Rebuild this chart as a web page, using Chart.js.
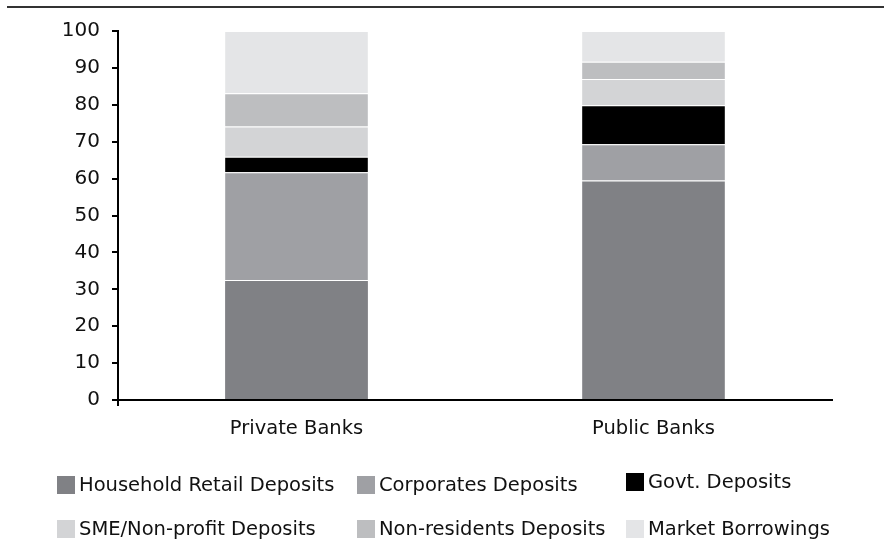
<!DOCTYPE html>
<html>
<head>
<meta charset="utf-8">
<script src="https://cdn.jsdelivr.net/npm/chart.js@4.4.1/dist/chart.umd.min.js"></script>
<style>
  html, body { margin: 0; padding: 0; background: #fff; }
  #wrap { position: relative; width: 884px; height: 544px; overflow: hidden; }
  #rule { position: absolute; left: 7px; right: 0; top: 6px; border-top: 2px solid #333; }
  #chart { position: absolute; left: 0; top: 0; }
  .lg { position: absolute; display: flex; align-items: center; font: 19.5px "DejaVu Sans", sans-serif; color: #111; white-space: nowrap; }
  .lg i { display: inline-block; width: 18px; height: 18px; margin-right: 4px; }
</style>
</head>
<body>
<div id="wrap">
  <div id="rule"></div>
  <canvas id="chart" width="884" height="544"></canvas>
  <div id="legend"></div>
</div>
<script>
// bank funding mix, % of total
const banks = ['Private Banks', 'Public Banks'];
const household = [32.5, 59.5];
const corporates = [29.2, 9.8];
const govt = [4.2, 10.6];
const sme = [8.2, 7.1];
const nonResidents = [9.0, 4.7];
const marketBorrowings = [16.9, 8.3];
const yTicks = [0, 10, 20, 30, 40, 50, 60, 70, 80, 90, 100];

const series = [
  { label: 'Household Retail Deposits', data: household, color: '#808185' },
  { label: 'Corporates Deposits', data: corporates, color: '#9fa0a4' },
  { label: 'Govt. Deposits', data: govt, color: '#000000' },
  { label: 'SME/Non-profit Deposits', data: sme, color: '#d3d4d6' },
  { label: 'Non-residents Deposits', data: nonResidents, color: '#bdbec0' },
  { label: 'Market Borrowings', data: marketBorrowings, color: '#e4e5e7' }
];

const family = '"DejaVu Sans", sans-serif';

new Chart(document.getElementById('chart'), {
  type: 'bar',
  data: {
    labels: banks,
    datasets: series.map(s => ({
      label: s.label,
      data: s.data,
      backgroundColor: s.color,
      borderColor: 'rgba(255,255,255,0.2)',
      borderWidth: { top: 1 },
      borderSkipped: 'bottom',
      barPercentage: 0.4,
      categoryPercentage: 1
    }))
  },
  options: {
    responsive: false,
    animation: false,
    layout: { padding: { left: 0, right: 52, top: 31, bottom: 100 } },
    plugins: { legend: { display: false }, tooltip: { enabled: false } },
    scales: {
      x: {
        stacked: true,
        border: { color: '#000', width: 2 },
        grid: {
          drawOnChartArea: false,
          tickLength: 6,
          color: c => c.index === 0 ? '#000' : 'rgba(0,0,0,0)',
          lineWidth: 2
        },
        ticks: { color: '#111', font: { family: family, size: 19.5 }, padding: 11 },
        afterFit: s => { s.height = 44; }
      },
      y: {
        stacked: true,
        min: 0,
        max: 100,
        border: { color: '#000', width: 2 },
        grid: { drawOnChartArea: false, tickLength: 6, color: '#000', lineWidth: 2 },
        afterBuildTicks: s => { s.ticks = yTicks.map(v => ({ value: v })); },
        ticks: { color: '#111', font: { family: family, size: 20 }, padding: 12 },
        afterFit: s => { s.width = 118; }
      }
    }
  }
});

// two-row legend under the axis
const slots = [[57, 473], [357, 473], [626, 470], [57, 517], [357, 517], [626, 517]];
const legend = document.getElementById('legend');
series.forEach((s, i) => {
  const el = document.createElement('div');
  el.className = 'lg';
  el.style.left = slots[i][0] + 'px';
  el.style.top = slots[i][1] + 'px';
  el.innerHTML = '<i style="background:' + s.color + '"></i>' + s.label;
  legend.appendChild(el);
});
</script>
</body>
</html>
